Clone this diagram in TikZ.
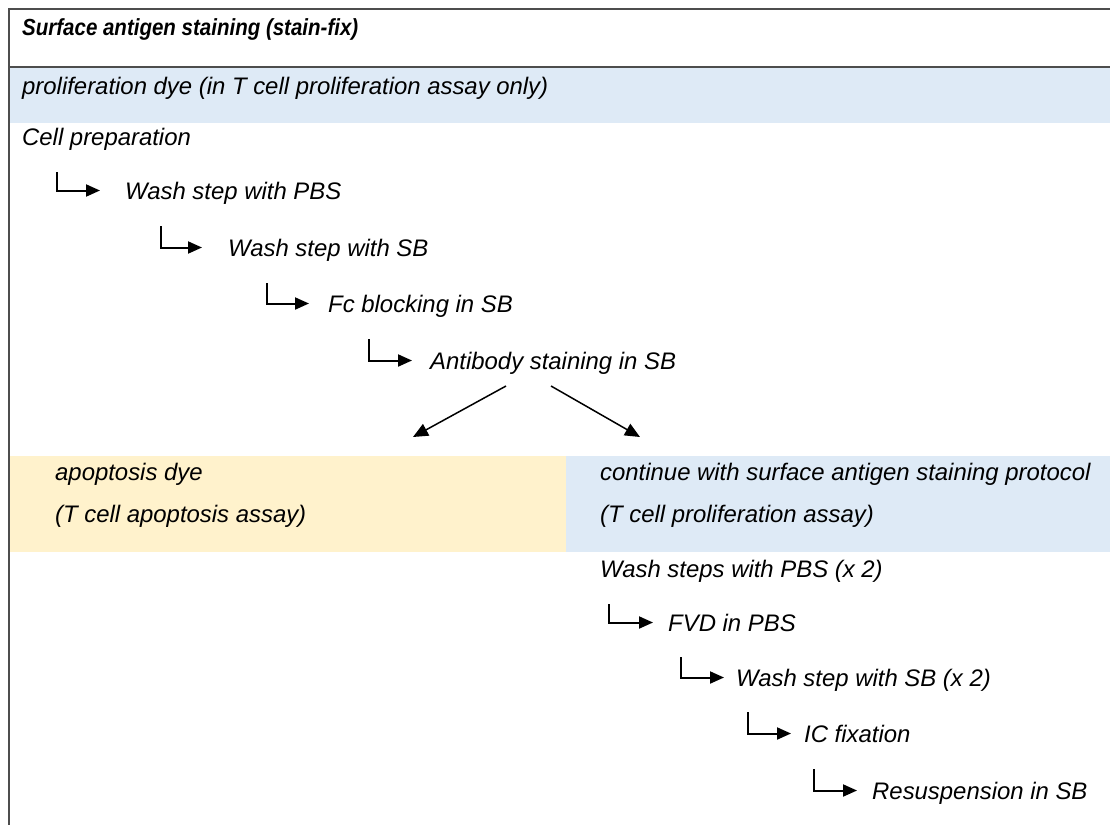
\documentclass[tikz,border=0pt]{standalone}
\usepackage{fontspec}
\setmainfont{Liberation Sans}
\newfontfamily\titlefont{Liberation Sans}[FakeStretch=0.88]
\usetikzlibrary{arrows.meta}
\definecolor{bandblue}{HTML}{DEEAF6}
\definecolor{bandgold}{HTML}{FFF2CC}
\definecolor{rulegray}{HTML}{4D4D4D}

\begin{document}
\begin{tikzpicture}[x=1pt,y=-1pt,
  txt/.style={anchor=base west,inner sep=0pt,text height=17pt,text depth=0pt,font=\fontsize{23.9}{28}\selectfont\itshape},
  titletxt/.style={txt,font=\titlefont\fontsize{23.3}{27}\selectfont\bfseries\itshape},
  elbow/.style={line width=2pt,-{Triangle[length=14pt,width=12pt]}},
  fork/.style={line width=1.5pt,-{Triangle[length=15pt,width=13pt]}}]
\useasboundingbox (0,0) rectangle (1110,825);

\fill[bandblue] (9,67) rectangle (1110,123);
\fill[bandgold] (9,456) rectangle (566,552);
\fill[bandblue] (566,456) rectangle (1110,552);
\draw[rulegray,line width=1.5pt] (1110,9) -- (9,9) -- (9,825);
\draw[rulegray,line width=2pt] (9,67) -- (1110,67);

\node[titletxt] (title) at (22,35) {Surface antigen staining (stain-fix)};
\node[txt] (prolif) at (22,94) {proliferation dye (in T cell proliferation assay only)};
\node[txt] (cell) at (22,145) {Cell preparation};
\node[txt] (pbs) at (125,199) {Wash step with PBS};
\node[txt] (sb) at (228,256) {Wash step with SB};
\node[txt] (fc) at (328,312) {Fc blocking in SB};
\node[txt] (ab) at (430,369) {Antibody staining in SB};

\node[txt] (apo) at (55,480) {apoptosis dye};
\node[txt] (apoassay) at (55,522) {(T cell apoptosis assay)};
\node[txt] (cont) at (600,480) {continue with surface antigen staining protocol};
\node[txt] (contassay) at (600,522) {(T cell proliferation assay)};

\node[txt] (wpbs) at (600,577) {Wash steps with PBS (x 2)};
\node[txt] (fvd) at (668,631) {FVD in PBS};
\node[txt] (wsb) at (736,686) {Wash step with SB (x 2)};
\node[txt] (ic) at (804,742) {IC fixation};
\node[txt] (res) at (872,799) {Resuspension in SB};

\draw[elbow] ([xshift=35pt,yshift=-27pt]cell.base west) |- ([xshift=-25pt]pbs.west);
\draw[elbow] ([xshift=36pt,yshift=-27pt]pbs.base west) |- ([xshift=-26pt]sb.west);
\draw[elbow] ([xshift=39pt,yshift=-27pt]sb.base west) |- ([xshift=-19pt]fc.west);
\draw[elbow] ([xshift=41pt,yshift=-27pt]fc.base west) |- ([xshift=-18pt]ab.west);

\coordinate (apotip) at (413,437);
\coordinate (protip) at (640,437);
\draw[fork] ([xshift=76pt,yshift=-17pt]ab.base west) -- (apotip);
\draw[fork] ([xshift=121pt,yshift=-17pt]ab.base west) -- (protip);

\draw[elbow] ([xshift=9pt,yshift=-27pt]wpbs.base west) |- ([xshift=-15pt]fvd.west);
\draw[elbow] ([xshift=13pt,yshift=-26pt]fvd.base west) |- ([xshift=-12pt]wsb.west);
\draw[elbow] ([xshift=12pt,yshift=-26pt]wsb.base west) |- ([xshift=-13pt]ic.west);
\draw[elbow] ([xshift=10pt,yshift=-27pt]ic.base west) |- ([xshift=-15pt]res.west);
\end{tikzpicture}
\end{document}
